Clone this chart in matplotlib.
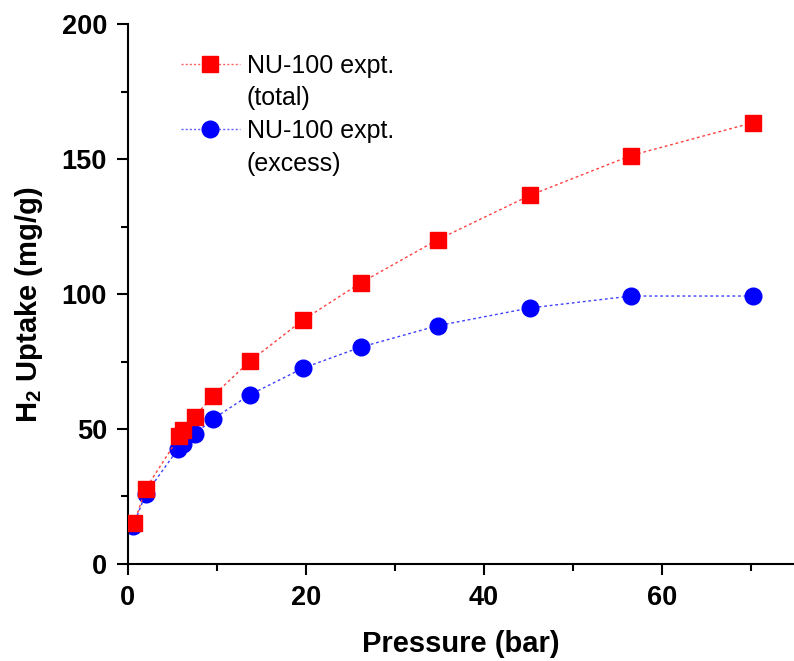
import matplotlib
matplotlib.use("Agg")
import matplotlib.pyplot as plt
from matplotlib.lines import Line2D
from matplotlib.ticker import MultipleLocator

plt.rcParams['font.family'] = ['Liberation Sans', 'DejaVu Sans']
plt.rcParams['mathtext.fontset'] = 'custom'
plt.rcParams['mathtext.rm'] = 'Liberation Sans'
plt.rcParams['mathtext.bf'] = 'Liberation Sans:bold'

pressure = [0.7, 2.0, 5.8, 6.2, 7.5, 9.6, 13.7, 19.7, 26.2, 34.8, 45.2, 56.5, 70.2]
total = [15.0, 27.8, 47.3, 49.6, 54.6, 62.4, 75.1, 90.5, 104.3, 120.2, 136.7, 151.4, 163.6]
pressure_ex = [0.6, 2.0, 5.6, 6.2, 7.5, 9.6, 13.7, 19.7, 26.2, 34.8, 45.2, 56.5, 70.2]
excess = [14.1, 25.9, 42.4, 44.6, 48.1, 53.8, 62.7, 72.6, 80.4, 88.3, 94.9, 99.3, 99.3]

fig = plt.figure(figsize=(7.94, 6.61), dpi=100)
ax = fig.add_axes([0.161, 0.147, 0.839, 0.816])

ax.plot(pressure, total, linestyle=(0, (2, 2)), linewidth=1.0, color='#ff4040',
        marker='s', markersize=11, markerfacecolor='red', markeredgecolor='red', zorder=3)
ax.plot(pressure_ex, excess, linestyle=(0, (2, 2)), linewidth=1.0, color='#4040ff',
        marker='o', markersize=12, markerfacecolor='blue', markeredgecolor='blue', zorder=2)

ax.set_xlim(0, 74.8)
ax.set_ylim(0, 200)
ax.xaxis.set_major_locator(MultipleLocator(20))
ax.xaxis.set_minor_locator(MultipleLocator(10))
ax.yaxis.set_major_locator(MultipleLocator(50))
ax.yaxis.set_minor_locator(MultipleLocator(25))

for s in ['top', 'right']:
    ax.spines[s].set_visible(False)
for s in ['left', 'bottom']:
    ax.spines[s].set_linewidth(1.5)

ax.tick_params(which='major', direction='out', length=8, width=1.5, labelsize=19.5, pad=7)
ax.tick_params(which='minor', direction='out', length=5, width=1.5)
for lab in ax.get_xticklabels() + ax.get_yticklabels():
    lab.set_fontweight('bold')

ax.set_xlabel('Pressure (bar)', fontsize=21, fontweight='bold', labelpad=14)
ax.set_ylabel(r'$\mathbf{H_2}$ Uptake (mg/g)', fontsize=21, fontweight='bold',
              labelpad=12, y=0.48)

h1 = Line2D([], [], linestyle=(0, (1.5, 1.5)), linewidth=1.0, color='#ff6060',
            marker='s', markersize=11, markerfacecolor='red', markeredgecolor='red')
h2 = Line2D([], [], linestyle=(0, (1.5, 1.5)), linewidth=1.0, color='#6060ff',
            marker='o', markersize=12, markerfacecolor='blue', markeredgecolor='blue')
blank = Line2D([], [], linestyle='none')
leg = ax.legend([h1, blank, h2, blank],
                ['NU-100 expt.', '(total)', 'NU-100 expt.', '(excess)'],
                loc='upper left', bbox_to_anchor=((181 - 128) / 666, 0.946),
                frameon=False, fontsize=18, handlelength=2.36, handletextpad=0.28,
                labelspacing=0.35, borderaxespad=0, borderpad=0)

fig.savefig('out.png', dpi=100)
